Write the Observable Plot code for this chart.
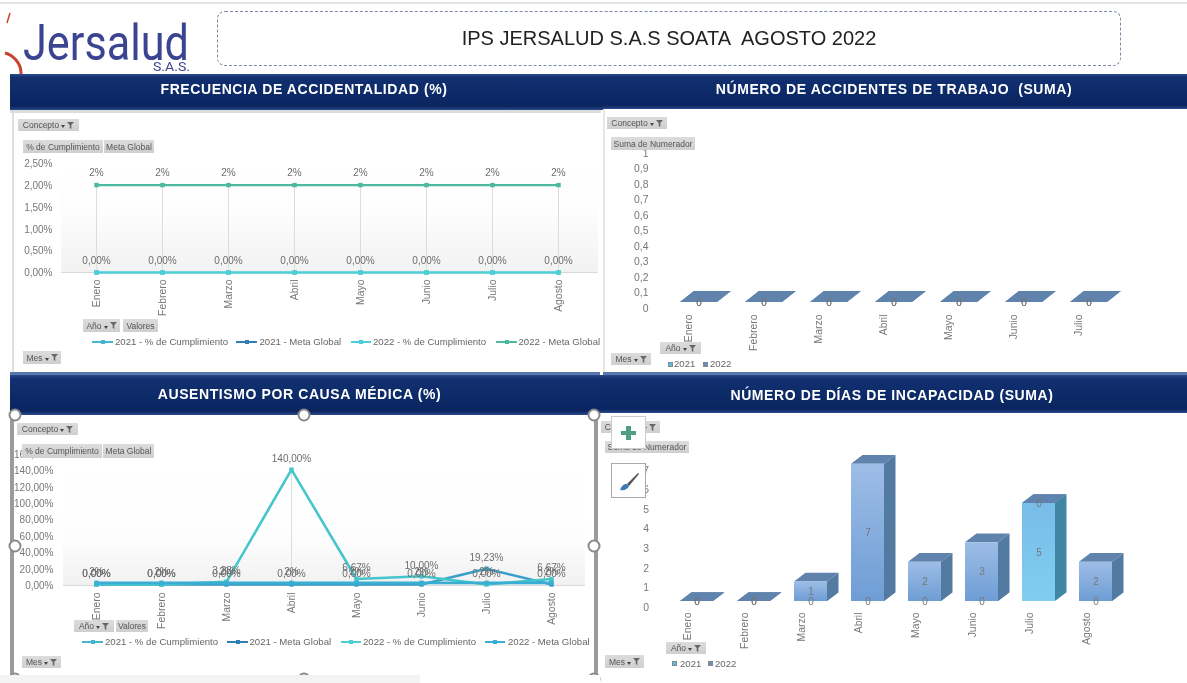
<!DOCTYPE html>
<html lang="es">
<head>
<meta charset="utf-8">
<title>IPS JERSALUD S.A.S SOATA AGOSTO 2022</title>
<script src="https://cdn.jsdelivr.net/npm/d3@7"></script>
<script src="https://cdn.jsdelivr.net/npm/@observablehq/plot@0.6"></script>
<style>
html,body{margin:0;padding:0;background:#fff}
#root{position:relative;width:1187px;height:683px;overflow:hidden;background:#fff;font-family:"Liberation Sans",Arial,sans-serif;color:#666;filter:blur(.35px)}
.abs{position:absolute}
.hdr{position:absolute;color:#fff;font-weight:700;font-size:14px;letter-spacing:.6px;
background:linear-gradient(to bottom,#2a4a8c 0,#12306f 10%,#0d2a69 50%,#0a2560 90%,#2a4b8c 100%)}
.btn{position:absolute;display:flex;align-items:center;justify-content:center;gap:2px;box-sizing:border-box;font-size:8.5px;color:#555;white-space:nowrap;
background:linear-gradient(to bottom,#dcdcdc,#cfcfcf);overflow:hidden}
.btn svg{display:block}
.lg{position:absolute;font-size:9.6px;color:#666;white-space:nowrap;line-height:12px}
.lgl{position:absolute;height:2px}
.sq{position:absolute;width:5px;height:5px;box-sizing:border-box;border:1px solid #888}
.hd{position:absolute;width:9px;height:9px;border-radius:50%;background:#fff;border:2px solid #8a8a8a;box-sizing:content-box;transform:translate(-6.5px,-6.5px);z-index:6}
.plot{position:absolute;z-index:2}
.plot svg{background:transparent!important;display:block}
</style>
</head>
<body>
<svg width="0" height="0" style="position:absolute">
  <defs>
    <linearGradient id="front2022" x1="0" y1="0" x2="0" y2="1"><stop offset="0" stop-color="#9dbde6"/><stop offset="1" stop-color="#6e9dd5"/></linearGradient>
    <linearGradient id="front2021" x1="0" y1="0" x2="0" y2="1"><stop offset="0" stop-color="#78bde9"/><stop offset="1" stop-color="#80cdf0"/></linearGradient>
  </defs>
</svg>
<div id="root"></div>
<script>
// ---------- data ----------
const months = ["Enero","Febrero","Marzo","Abril","Mayo","Junio","Julio","Agosto"];
const monthsAccidents = ["Enero","Febrero","Marzo","Abril","Mayo","Junio","Julio"];

const freqCumplimiento2021 = [0,0,0,0,0,0,0,0];
const freqCumplimiento2022 = [0,0,0,0,0,0,0,0];
const freqMeta2022 = [2,2,2,2,2,2,2,2];

const ausCumplimiento2021 = [0,0,0,0,0,0,19.23,0];
const ausCumplimiento2022 = [0,0,3.28,140,6.67,10,0,6.67];
const ausMeta2022 = [2,2,2,2,2,2,2,2];

const accidentes2021 = [0,0,0,0,0,0,0];
const accidentes2022 = [0,0,0,0,0,0,0];
const dias2021 = [0,0,0,0,0,0,5,0];
const dias2022 = [0,0,1,7,2,3,0,2];

const freqTicks = [0,0.5,1,1.5,2,2.5];
const ausTicks = [0,20,40,60,80,100,120,140,160];
const accTicks = [0,0.1,0.2,0.3,0.4,0.5,0.6,0.7,0.8,0.9,1];
const diasTicks = [0,1,2,3,4,5,6,7];
const legendLines = ["2021 - % de Cumplimiento","2021 - Meta Global","2022 - % de Cumplimiento","2022 - Meta Global"];
const legendYears = ["2021","2022"];

// ---------- helpers ----------
const FONT = '"Liberation Sans",Arial,sans-serif';
const GREY = "#777";
const root = document.getElementById("root");
const pct2 = v => v.toFixed(2).replace(".",",") + "%";
const comma = v => String(v).replace(".",",");

function el(cls, style, html){
  const d = document.createElement("div");
  d.className = cls;
  d.style.cssText = style;
  if (html != null) d.innerHTML = html;
  root.appendChild(d);
  return d;
}
const funnel = '<svg width="7" height="7" viewBox="0 0 7 7"><path d="M0 0H7L4.3 3V7L2.7 6V3Z" fill="#666"/></svg>';
const caret = '<svg width="4" height="3" viewBox="0 0 4 3" style="margin-top:3px"><path d="M0 0H4L2 3Z" fill="#444"/></svg>';
function btn(text, x0, y0, x1, y1, filter){
  el("btn", `left:${x0}px;top:${y0}px;width:${x1-x0}px;height:${y1-y0}px;z-index:3`,
     `<span>${text}</span>` + (filter ? caret + funnel : ""));
}
function box(x0,y0,x1,y1,bg,z){ return el("abs",`left:${x0}px;top:${y0}px;width:${x1-x0}px;height:${y1-y0}px;background:${bg};z-index:${z||0}`); }
function hdr(text,x0,y0,x1,y1,cx,cy){
  const d = el("hdr",`left:${x0}px;top:${y0}px;width:${x1-x0}px;height:${y1-y0}px;z-index:1`);
  const s = document.createElement("span");
  s.textContent = text;
  s.style.cssText = `position:absolute;left:${cx-x0}px;top:${cy-y0}px;transform:translate(-50%,-50%);white-space:nowrap`;
  d.appendChild(s);
}
function place(svg,left,top){
  const d = document.createElement("div");
  d.className = "plot";
  d.style.left = left+"px"; d.style.top = top+"px";
  d.appendChild(svg); root.appendChild(d);
}
function lineLegend(y, items){
  items.forEach(([x0,x1,tx,color],i)=>{
    el("lgl",`left:${x0}px;width:${x1-x0}px;top:${y-1}px;background:${color};z-index:3`);
    el("abs",`left:${(x0+x1)/2-2}px;top:${y-2}px;width:4px;height:4px;background:${color};z-index:3`);
    el("lg",`left:${tx}px;top:${y-6}px;z-index:3`,legendLines[i]);
  });
}
function yearLegend(y, items){
  items.forEach(([sx,tx,color],i)=>{
    el("sq",`left:${sx}px;top:${y-2.5}px;background:${color};z-index:3`);
    el("lg",`left:${tx}px;top:${y-6}px;z-index:3`,legendYears[i]);
  });
}

function linePanel({left,top,width,height,xRange,y0,domainMax,pxPerUnit,ticks,tickDy,axisRight,labelDy,series,tickPad}){
  const table = [];
  series.forEach(s => s.values.forEach((v,i)=> table.push({month:months[i],value:v,name:s.name,color:s.color,text:s.labelFmt(v)})));
  const maxByMonth = months.map(m => ({month:m, value:d3.max(table.filter(d=>d.month===m),d=>d.value)}));
  const y0px = y0-top;
  return Plot.plot({
    width,height,
    marginLeft:axisRight-left+3, marginRight:0, marginTop:y0px-domainMax*pxPerUnit, marginBottom:height-y0px,
    style:{background:"transparent",fontFamily:FONT,fontSize:"10px",overflow:"visible"},
    x:{type:"point",domain:months,range:xRange.map(v=>v-left),padding:0,label:null},
    y:{domain:[0,domainMax],label:null},
    marks:[
      Plot.ruleX(maxByMonth,{x:"month",y1:0,y2:"value",stroke:"#dcdcdc",strokeWidth:1}),
      Plot.axisY({ticks,tickSize:0,tickPadding:3,tickFormat:ticks.fmt,fill:GREY,fontSize:10,dy:tickDy,label:null}),
      Plot.axisX({tickSize:0,tickRotate:-90,tickPadding:tickPad,fill:GREY,fontSize:10.4,label:null}),
      ...series.map(s => Plot.line(table.filter(d=>d.name===s.name),{x:"month",y:"value",stroke:s.color,strokeWidth:s.width||2})),
      ...series.map(s => Plot.dot(table.filter(d=>d.name===s.name),{x:"month",y:"value",symbol:"square",r:2.5,fill:s.color})),
      Plot.text(table,{x:"month",y:"value",text:"text",dy:labelDy,fill:"#6d6d6d",fontSize:10})
    ]
  });
}

function bar3d(dx,dy){
  return function(index,scales,values,dimensions,context,next){
    const g = next(index,scales,values,dimensions,context);
    const rects = Array.from(g.querySelectorAll("rect"));
    const NS = "http://www.w3.org/2000/svg";
    const first = rects[0];
    const polys = [];
    rects.forEach(r=>{
      const x=+r.getAttribute("x"), y=+r.getAttribute("y"), w=+r.getAttribute("width"), h=+r.getAttribute("height");
      const is2021 = (r.getAttribute("fill")||"").includes("2021");
      polys.push({d:`${x},${y} ${x+w},${y} ${x+w+dx},${y-dy} ${x+dx},${y-dy}`,fill:"#5f83ad",order:0});
      if (h>0) polys.push({d:`${x+w},${y} ${x+w+dx},${y-dy} ${x+w+dx},${y+h-dy} ${x+w},${y+h}`,fill:is2021?"#3f86a3":"#537aa1",order:1});
    });
    polys.sort((a,b)=>a.order-b.order).forEach(p=>{
      const e = document.createElementNS(NS,"polygon");
      e.setAttribute("points",p.d); e.setAttribute("fill",p.fill);
      g.insertBefore(e,first);
    });
    return g;
  };
}

function barPanel({left,top,width,height,domain,v2021,v2022,r0,r1,padding,y0,domainMax,pxPerUnit,ticks,tickFormat,axisRight,dx,dy,labelDx,tickPad}){
  const table = [];
  domain.forEach((m,i)=>{
    table.push({month:m,year:"2021",value:v2021[i]});
    table.push({month:m,year:"2022",value:v2022[i]});
  });
  const y0px = y0-top;
  return Plot.plot({
    width,height,
    marginLeft:axisRight-left+2, marginRight:0, marginTop:y0px-domainMax*pxPerUnit, marginBottom:height-y0px,
    style:{background:"transparent",fontFamily:FONT,fontSize:"10px",overflow:"visible"},
    x:{type:"band",domain,range:[r0-left,r1-left],padding,label:null},
    y:{domain:[0,domainMax],label:null},
    color:{type:"ordinal",domain:legendYears,range:["url(#front2021)","url(#front2022)"]},
    marks:[
      Plot.axisY({ticks,tickSize:0,tickPadding:2,tickFormat,fill:GREY,fontSize:10.4,dy:6,label:null}),
      Plot.axisX({tickSize:0,tickRotate:-90,tickPadding:tickPad,fill:GREY,fontSize:10.4,dx:labelDx,label:null}),
      Plot.barY(table,{x:"month",y:"value",fill:"year",z:"year",render:bar3d(dx,dy)}),
      Plot.text(table,Plot.stackY({x:"month",y:"value",z:"year",text:"value",fill:"#777",fontSize:10}))
    ]
  });
}

// ---------- page chrome ----------
box(0,2,1187,4,"#e4e4e4");
// logo
el("abs",'left:0;top:18px;width:210px;height:60px;z-index:1',
 `<svg width="210" height="62" viewBox="0 0 210 62" style="overflow:visible">
   <path d="M5 35 C 13 37, 21 45, 21 55 C 21 60, 19 64, 17 68" fill="none" stroke="#c8442f" stroke-width="3"/>
   <path d="M7 5 L10 -5" stroke="#c8442f" stroke-width="1.5"/>
   <text x="23" y="42" font-family="Roboto,sans-serif" font-size="50" fill="#3b4490" textLength="166" lengthAdjust="spacingAndGlyphs">Jersalud</text>
   <text x="153" y="53" font-family="Roboto,sans-serif" font-size="12" fill="#3b4490" textLength="37" lengthAdjust="spacingAndGlyphs">S.A.S.</text>
 </svg>`);
// title box
el("abs",'left:217px;top:11px;width:902px;height:53px;border:1px dashed #7a8aa8;border-radius:8px;z-index:1;display:flex;align-items:center;justify-content:center;font-size:20px;color:#222;white-space:nowrap',
 'IPS JERSALUD S.A.S SOATA&nbsp; AGOSTO 2022');

hdr("FRECUENCIA DE ACCIDENTALIDAD (%)",10,74,603,110,304,89);
hdr("NÚMERO DE ACCIDENTES DE TRABAJO\u00a0 (SUMA)",603,74,1187,109,894,89);
hdr("AUSENTISMO POR CAUSA MÉDICA (%)",10,375,600,415,299.5,394);
hdr("NÚMERO DE DÍAS DE INCAPACIDAD (SUMA)",600,375,1187,413,892,395);

// frames around the upper panels
box(10,110,601,113,"#dcdcdc");
box(12,113,14,372,"#dfdfdf");
box(10,372,600,375,"#5878ad");
box(603,372,1187,375,"#5878ad");
box(603,109,605,372,"#e6e6e6");
box(10,415,14,683,"#9b9b9b",1);
box(594,415,598,683,"#9b9b9b",1);

// plot backgrounds
box(61,165,598,272,"linear-gradient(to bottom,#fff 0,#fdfdfd 45%,#f2f2f2 100%)",1);
box(63,470,585,585,"linear-gradient(to bottom,#fff 0,#fdfdfd 60%,#f1f1f1 100%)",1);
box(61,272,598,273,"#dadada",1);
box(63,585,585,586,"#dadada",1);

// ---------- charts ----------
const cTeal = "#43bfcf", cGreen = "#4cb9a0", cBlue = "#3aaed2";
const freqT = freqTicks.slice(); freqT.fmt = pct2;
place(linePanel({
  left:0,top:112,width:600,height:262,xRange:[94.5,560],y0:272,domainMax:2.5,pxPerUnit:43.7,
  ticks:freqT,tickDy:0.5,axisRight:52,labelDy:-12,tickPad:7,
  series:[
    {name:legendLines[0],values:freqCumplimiento2021,color:cTeal,labelFmt:()=>""},
    {name:legendLines[2],values:freqCumplimiento2022,color:"#4cd0d6",labelFmt:pct2},
    {name:legendLines[3],values:freqMeta2022,color:cGreen,width:2.4,labelFmt:v=>v+"%"}
  ]
}),0,112);

const ausT = ausTicks.slice(); ausT.fmt = pct2;
place(linePanel({
  left:0,top:415,width:598,height:268,xRange:[94.5,551.5],y0:584,domainMax:160,pxPerUnit:0.82,
  ticks:ausT,tickDy:1.3,axisRight:53,labelDy:-11,tickPad:8,
  series:[
    {name:legendLines[0],values:ausCumplimiento2021,color:"#3a9fc8",width:2.4,labelFmt:pct2},
    {name:legendLines[2],values:ausCumplimiento2022,color:"#45c6cc",width:2.6,labelFmt:pct2},
    {name:legendLines[3],values:ausMeta2022,color:cBlue,width:2.6,labelFmt:v=>v+"%"}
  ]
}),0,415);

place(barPanel({
  left:600,top:112,width:587,height:260,domain:monthsAccidents,v2021:accidentes2021,v2022:accidentes2022,
  r0:650.5,r1:1137,padding:0.429,y0:302,domainMax:1,pxPerUnit:155,ticks:accTicks,tickFormat:comma,axisRight:648,
  dx:13.9,dy:11,labelDx:-10,tickPad:12
}),600,112);

place(barPanel({
  left:600,top:415,width:587,height:268,domain:months,v2021:dias2021,v2022:dias2022,
  r0:652.9,r1:1138.3,padding:0.427,y0:601,domainMax:8,pxPerUnit:19.6,ticks:diasTicks,tickFormat:comma,axisRight:648.5,
  dx:11.5,dy:8.7,labelDx:-9,tickPad:11
}),600,415);

// ---------- field buttons ----------
btn("Concepto",18,119,79,131,true);
btn("% de Cumplimiento",23,140,103,153);
btn("Meta Global",104,140,154,153);
btn("Año",83,319,120,332,true);
btn("Valores",123,319,158,332);
btn("Mes",23,351,61,364,true);

btn("Concepto",607,117,667,129,true);
btn("Suma de Numerador",611,137,695,150);
btn("Mes",611,353,651,365,true);
btn("Año",660,342,701,354,true);

btn("Concepto",17,423,78,435,true);
btn("% de Cumplimiento",22,444,102,458);
btn("Meta Global",103,444,154,458);
btn("Año",74,620,114,632,true);
btn("Valores",116,620,148,632);
btn("Mes",22,656,61,668,true);

btn("Concepto",601,421,660,433,true);
btn("Suma de Numerador",605,441,689,453);
btn("Mes",605,655,644,668,true);
btn("Año",666,642,706,654,true);

// ---------- legends ----------
lineLegend(341.7,[[92,113,115,"#44b6d2"],[236,257,259.5,"#2f7fb4"],[351,371,373,"#4cd0d6"],[496,517,518.5,cGreen]]);
lineLegend(642,[[82,103,105,"#44b6d2"],[227,248,249.5,"#2f7fb4"],[341,361,363,"#4cd0d6"],[485,505,508,"#3aaed2"]]);
yearLegend(364,[[668,674,"#4fc0e8"],[703,710,"#5b93c9"]]);
yearLegend(663.7,[[672,680,"#4fc0e8"],[708,715,"#5b93c9"]]);

// ---------- selection handles and floating buttons ----------
[[15,415],[304,415],[594,415],[15,546],[594,546],[15,679],[304,679],[594,679]].forEach(([x,y])=>el("hd",`left:${x}px;top:${y}px`));
box(0,675,420,683,"#f3f3f3",8);
box(420,675,600,683,"#fff",8);
el("abs",'left:611px;top:416px;width:35px;height:33px;box-sizing:border-box;background:#fff;border:1px solid #ccc;z-index:7',
 '<svg width="33" height="31" viewBox="0 0 33 31"><path d="M14 9h5v5h5v4h-5v5h-5v-5H9v-4h5z" fill="#4f9f85"/></svg>');
el("abs",'left:611px;top:463px;width:35px;height:35px;box-sizing:border-box;background:#fff;border:1px solid #aaa;z-index:7',
 '<svg width="33" height="33" viewBox="0 0 33 33"><path d="M15 20L26 9L27 10L17 22Z" fill="#555"/><path d="M8 26C10 21 12 20 15 20L17 22C16 25 12 27 8 26Z" fill="#3d78b8"/></svg>');
</script>
</body>
</html>
